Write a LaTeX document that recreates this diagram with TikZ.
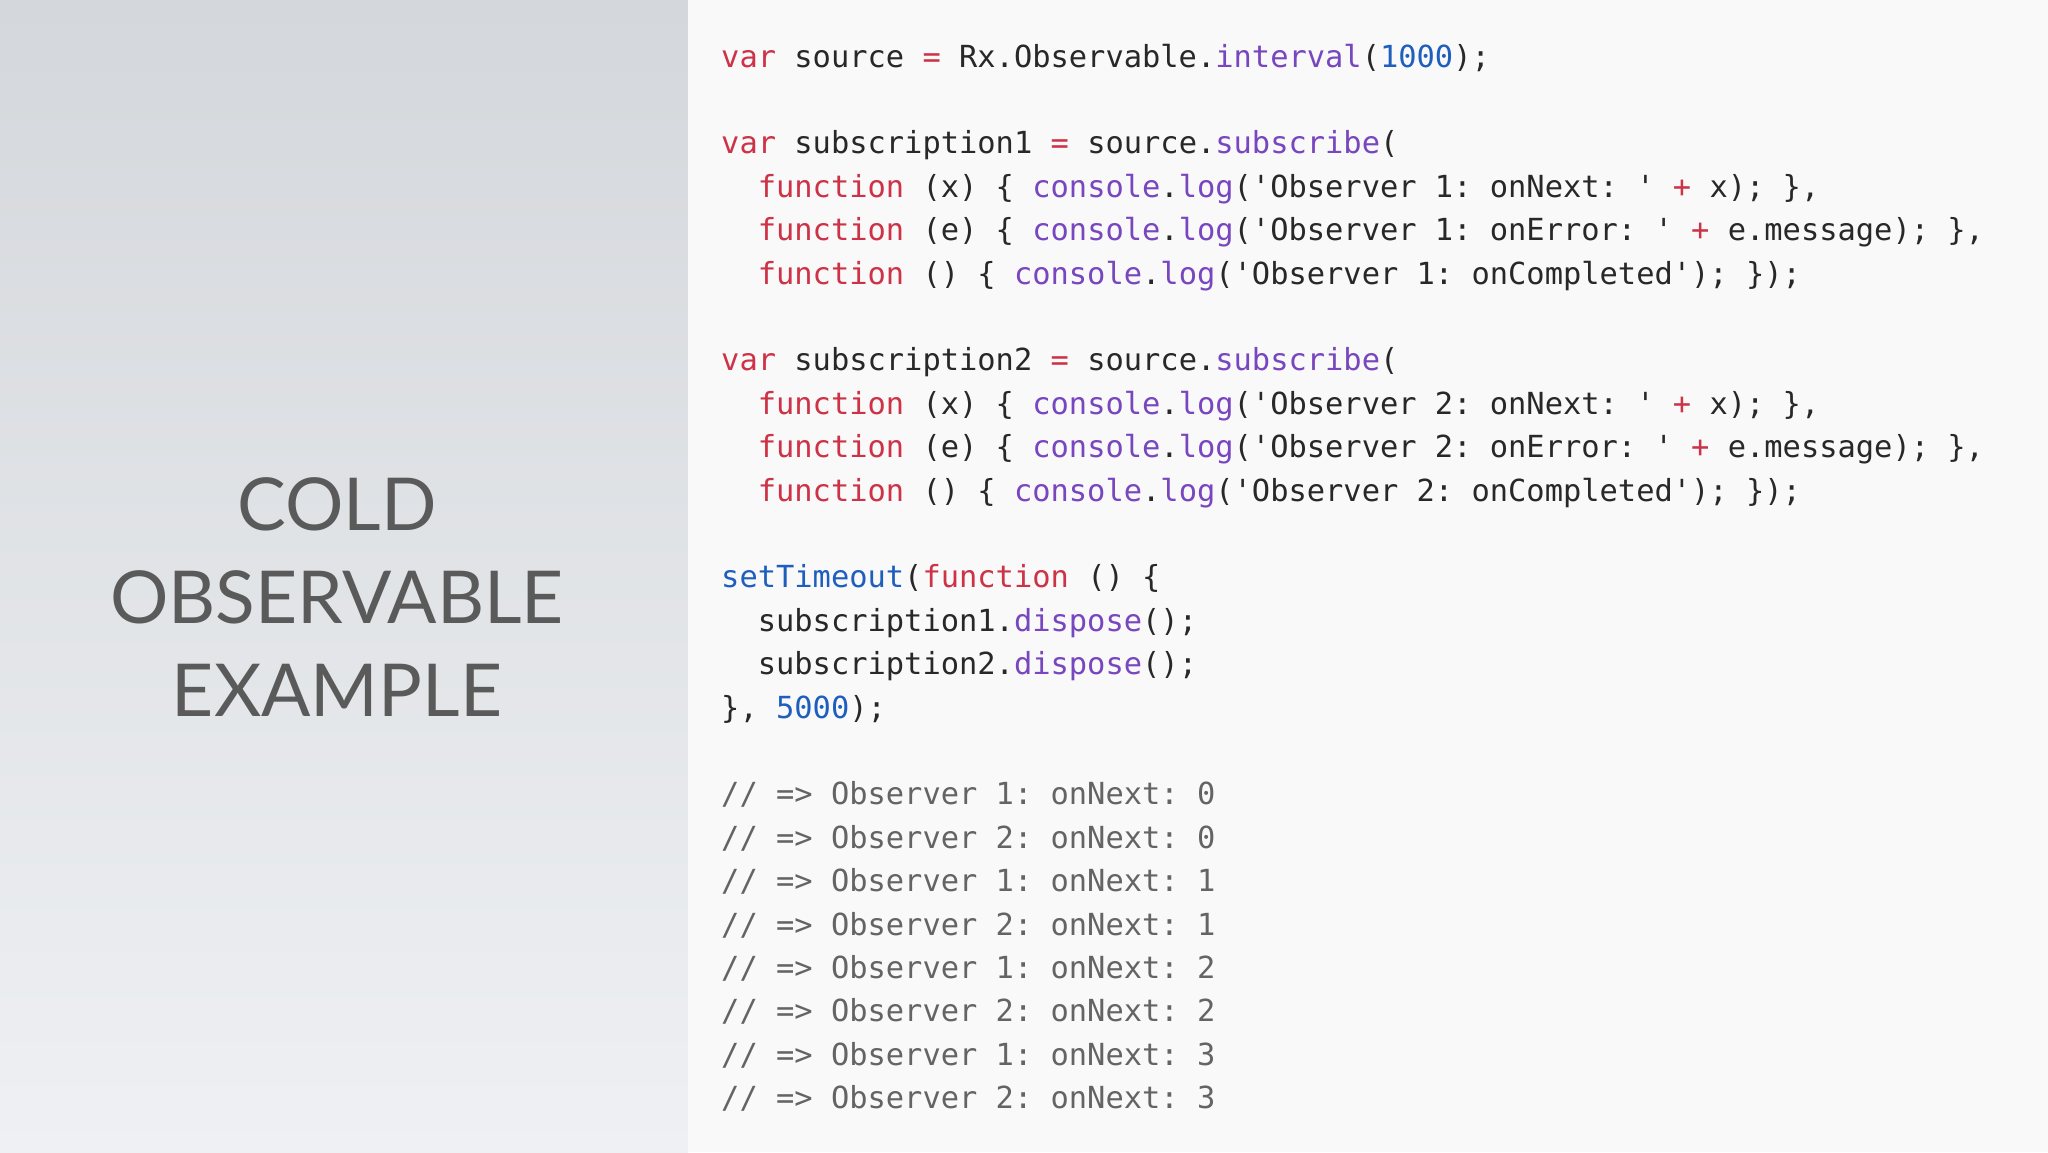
\documentclass[tikz,border=0pt]{standalone}
\usepackage{fontspec}
\frenchspacing
\newfontfamily\codefont{DejaVu Sans Mono}
\newfontfamily\titlefont{Lato}
\definecolor{bgL1}{RGB}{212,215,219}
\definecolor{bgL2}{RGB}{238,240,243}
\definecolor{bgR}{RGB}{249,249,250}
\definecolor{txt}{RGB}{40,40,40}
\definecolor{kw}{RGB}{205,50,70}
\definecolor{fn}{RGB}{120,70,190}
\definecolor{num}{RGB}{30,95,190}
\definecolor{cmt}{RGB}{100,100,100}
\definecolor{ttl}{RGB}{90,90,90}
\newcommand{\K}[1]{\textcolor{kw}{#1}}
\newcommand{\F}[1]{\textcolor{fn}{#1}}
\newcommand{\N}[1]{\textcolor{num}{#1}}
\newcommand{\q}{\char39\relax}
\newcommand{\cl}[3]{\node[code] (#1) at (721,{-(67+43.4*#2)}) {#3};}
\tikzset{code/.style={anchor=base west,inner sep=0,text=txt,font=\codefont\fontsize{30.4}{36}\selectfont},
ttl/.style={text=ttl,font=\titlefont\fontsize{73}{80}\selectfont,anchor=base}}
\begin{document}
\begin{tikzpicture}[x=1pt,y=1pt]
\useasboundingbox (0,0) rectangle (2048,-1152);
\shade[top color=bgL1,bottom color=bgL2] (0,0) rectangle (688,-1152);
\fill[bgR] (688,0) rectangle (2048,-1152);
\node[ttl] (t1) at (337,-530) {COLD};
\node[ttl] (t2) at (337,-623) {OBSERVABLE};
\node[ttl] (t3) at (337,-716) {EXAMPLE};
\cl{a}{0}{\K{var} source \K{=} Rx.Observable.\F{interval}(\N{1000});}
\cl{b}{2}{\K{var} subscription1 \K{=} source.\F{subscribe}(}
\cl{c}{3}{\ \ \K{function} (x) \{ \F{console}.\F{log}(\q Observer 1: onNext: \q\ \K{+} x); \},}
\cl{d}{4}{\ \ \K{function} (e) \{ \F{console}.\F{log}(\q Observer 1: onError: \q\ \K{+} e.message); \},}
\cl{e}{5}{\ \ \K{function} () \{ \F{console}.\F{log}(\q Observer 1: onCompleted\q); \});}
\cl{f}{7}{\K{var} subscription2 \K{=} source.\F{subscribe}(}
\cl{g}{8}{\ \ \K{function} (x) \{ \F{console}.\F{log}(\q Observer 2: onNext: \q\ \K{+} x); \},}
\cl{h}{9}{\ \ \K{function} (e) \{ \F{console}.\F{log}(\q Observer 2: onError: \q\ \K{+} e.message); \},}
\cl{i}{10}{\ \ \K{function} () \{ \F{console}.\F{log}(\q Observer 2: onCompleted\q); \});}
\cl{j}{12}{\textcolor{num}{setTimeout}(\K{function} () \{}
\cl{k}{13}{\ \ subscription1.\F{dispose}();}
\cl{l}{14}{\ \ subscription2.\F{dispose}();}
\cl{m}{15}{\}, \N{5000});}
\foreach \n/\o/\v in {17/1/0,18/2/0,19/1/1,20/2/1,21/1/2,22/2/2,23/1/3,24/2/3}
  \node[code,text=cmt] (r\n) at (721,{-(67+43.4*\n)}) {// => Observer \o: onNext: \v};
\end{tikzpicture}
\end{document}
